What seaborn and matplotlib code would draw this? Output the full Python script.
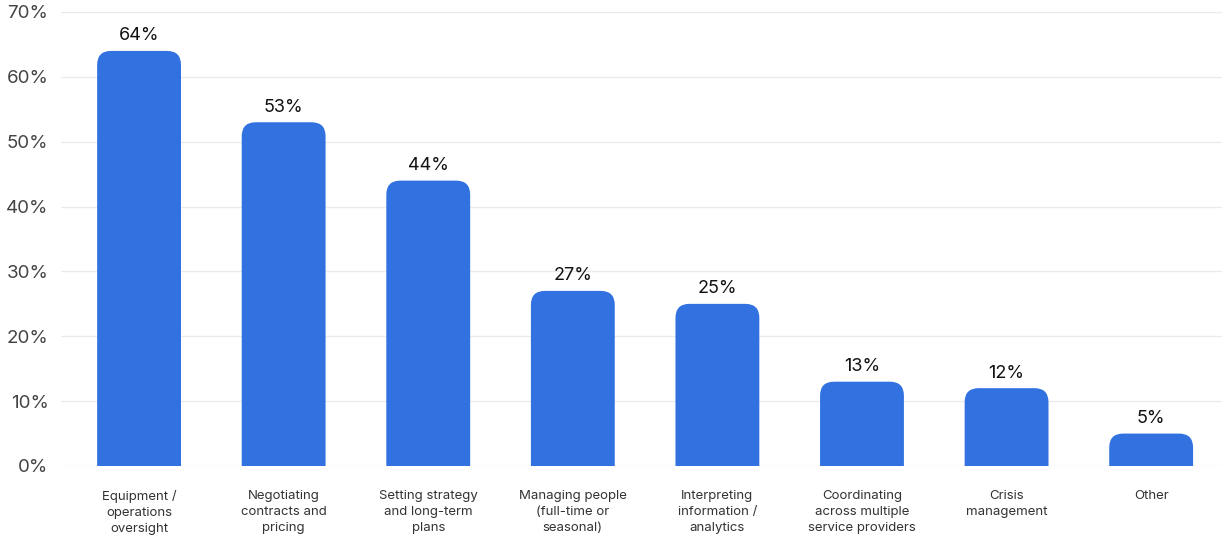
import matplotlib
matplotlib.use("Agg")
import matplotlib.pyplot as plt
from matplotlib.patches import FancyBboxPatch
from matplotlib.ticker import FuncFormatter
import seaborn as sns
import pandas as pd

categories = [
    "Equipment /\noperations\noversight",
    "Negotiating\ncontracts and\npricing",
    "Setting strategy\nand long-term\nplans",
    "Managing people\n(full-time or\nseasonal)",
    "Interpreting\ninformation /\nanalytics",
    "Coordinating\nacross multiple\nservice providers",
    "Crisis\nmanagement",
    "Other",
]
shares = [64, 53, 44, 27, 25, 13, 12, 5]
y_ticks = [0, 10, 20, 30, 40, 50, 60, 70]

BAR_COLOR = "#3272E0"

sns.set_theme(style="white")
plt.rcParams["font.family"] = ["Inter", "DejaVu Sans"]

df = pd.DataFrame({"category": categories, "share": shares})

fig = plt.figure(figsize=(12.26, 5.36), dpi=100)
ax = fig.add_axes([61 / 1226, 70 / 536, (1222 - 61) / 1226, (466 - 12) / 536])

sns.barplot(data=df, x="category", y="share", color=BAR_COLOR, width=0.58,
            saturation=1, ax=ax, zorder=2)

ax.set_xlim(-0.54, 7.49)
ax.set_ylim(0, 70)

# swap the square bars for ones with rounded top corners
radius_px = 14
x_per_px = (7.49 + 0.54) / (1222 - 61)
y_per_px = 70 / (466 - 12)
rx = radius_px * x_per_px
ry = radius_px * y_per_px
for p in list(ax.patches):
    x, w, h = p.get_x(), p.get_width(), p.get_height()
    p.remove()
    rounded = FancyBboxPatch(
        (x, -ry), w, h + ry,
        boxstyle=f"round,pad=0,rounding_size={rx}",
        mutation_aspect=ry / rx,
        facecolor=BAR_COLOR, edgecolor="none", zorder=2,
    )
    ax.add_patch(rounded)
    ax.text(x + w / 2, h + 1.0, f"{h:.0f}%", ha="center", va="bottom",
            fontsize=13, color="#111111")

ax.set_yticks(y_ticks)
ax.yaxis.set_major_formatter(FuncFormatter(lambda v, _: f"{v:.0f}%"))
ax.grid(axis="y", color="#ebebeb", linewidth=1, zorder=0)
ax.set_axisbelow(True)
ax.tick_params(axis="y", length=0, pad=9, labelsize=13.5, labelcolor="#444444")
ax.tick_params(axis="x", length=0, pad=17.5, labelsize=9.5, labelcolor="#333333")
for lbl in ax.get_xticklabels():
    lbl.set_linespacing(1.43)
ax.set_xlabel("")
ax.set_ylabel("")
for s in ax.spines.values():
    s.set_visible(False)

fig.savefig("out.png", dpi=100, facecolor="white")
